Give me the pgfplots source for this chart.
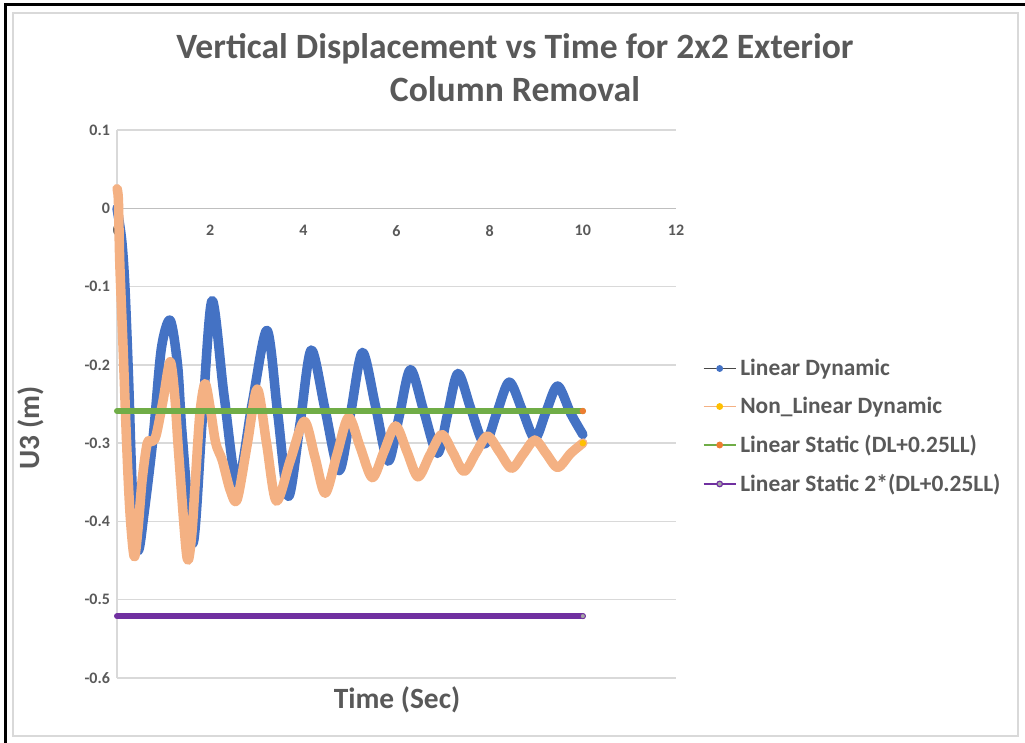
\documentclass[border=0pt]{standalone}
\usepackage{pgfplots}
\pgfplotsset{compat=1.18}
\usepackage{fontspec}
\setmainfont{Carlito}
\definecolor{txt}{HTML}{595959}
\definecolor{ld}{HTML}{4472C4}
\definecolor{nld}{HTML}{F4B183}
\definecolor{ls}{HTML}{70AD47}
\definecolor{lstwo}{HTML}{7030A0}
\definecolor{gridc}{HTML}{D9D9D9}
\definecolor{axc}{HTML}{BFBFBF}
\definecolor{mktwo}{HTML}{FFC000}
\definecolor{mkthree}{HTML}{ED7D31}
\definecolor{mkfour}{HTML}{A5A5A5}
\begin{document}
\begin{tikzpicture}
\begin{scope}[x=0.5pt,y=-0.5pt]
\path[use as bounding box] (0,0) rectangle (1025,743);
\draw[black, line width=1.5pt] (5.5,743) -- (5.5,5) -- (1025,5);
\draw[gridc, line width=1pt] (13,13) rectangle (1018,736);
\node[font=\bfseries\fontsize{17.8}{21.5}\selectfont, text=txt, align=center] at (515,68) {Vertical Displacement vs Time for 2x2 Exterior\\Column Removal};
\node[rotate=90, font=\bfseries\fontsize{14.7}{16}\selectfont, text=txt] at (31,428) {U3 (m)};
\node[font=\bfseries\fontsize{14.7}{16}\selectfont, text=txt] at (397,700) {Time (Sec)};
\end{scope}
\begin{axis}[at={(58.5pt,-339pt)}, anchor=south west, scale only axis,
  width=279.5pt, height=274pt,
  xmin=0, xmax=12, ymin=-0.6, ymax=0.1,
  xtick={0,2,4,6,8,10,12},
  ytick={-0.6,-0.5,-0.4,-0.3,-0.2,-0.1,0,0.1},
  axis x line*=middle, axis y line*=left,
  hide obscured x ticks=false, hide obscured y ticks=false,
  x axis line style={axc, line width=0.75pt, -},
  y axis line style={gridc, line width=0.75pt, -},
  ymajorgrids, grid style={gridc, line width=0.75pt},
  major tick length=0pt,
  /pgf/number format/assume math mode=true,
  tick label style={font=\bfseries\fontsize{8}{9}\selectfont, text=txt},
  yticklabel style={anchor=east, xshift=0pt},
  xticklabel style={anchor=north, yshift=-5pt},
  legend style={at={(1.037,0.459)}, anchor=west, draw=none, fill=none,
    font=\bfseries\fontsize{11.7}{13}\selectfont, text=txt, row sep=5.3pt,
    cells={anchor=west}},
  legend image code/.code={\draw[mark repeat=2,mark phase=2,#1] plot coordinates {(0pt,0pt) (8pt,0pt) (16pt,0pt)};},
  clip=false,
]
\addlegendimage{draw=txt!80!black, line width=0.6pt, mark=*, mark size=1.4pt, mark options={draw=ld, fill=ld}}
\addlegendentry{Linear Dynamic}
\addlegendimage{draw=nld, line width=0.6pt, mark=*, mark size=1.4pt, mark options={draw=mktwo, fill=mktwo}}
\addlegendentry{Non\_Linear Dynamic}
\addlegendimage{draw=ls, line width=0.6pt, mark=*, mark size=1.4pt, mark options={draw=mkthree, fill=mkthree}}
\addlegendentry{Linear Static (DL+0.25LL)}
\addlegendimage{draw=lstwo, line width=0.6pt, mark=*, mark size=1.4pt, mark options={draw=lstwo, fill=mkfour}}
\addlegendentry{Linear Static 2*(DL+0.25LL)}

\addplot[ld, line width=4.75pt, smooth, tension=0.5, line join=round, line cap=round, forget plot] coordinates {
(0,0) (0.1,-0.04) (0.17,-0.10) (0.25,-0.22) (0.33,-0.36) (0.45,-0.437) (0.58,-0.39) (0.78,-0.29) (0.95,-0.18) (1.14,-0.143) (1.3,-0.2) (1.4,-0.29) (1.63,-0.428) (1.83,-0.27) (2.04,-0.118) (2.3,-0.24) (2.58,-0.352) (2.9,-0.25) (3.22,-0.156) (3.45,-0.262) (3.68,-0.368) (3.93,-0.275) (4.17,-0.181) (4.47,-0.258) (4.77,-0.335) (5.02,-0.26) (5.27,-0.184) (5.55,-0.253) (5.82,-0.323) (6.06,-0.265) (6.3,-0.206) (6.59,-0.26) (6.88,-0.313) (7.1,-0.262) (7.32,-0.211) (7.6,-0.257) (7.89,-0.301) (8.15,-0.262) (8.42,-0.222) (8.7,-0.258) (8.97,-0.294) (9.21,-0.26) (9.46,-0.227) (9.74,-0.262) (10,-0.289)
};
\addplot[nld, line width=4.75pt, smooth, tension=0.5, line join=round, line cap=round, forget plot] coordinates {
(0,0.025) (0.03,0.01) (0.06,-0.07) (0.13,-0.177) (0.21,-0.305) (0.28,-0.39) (0.37,-0.445) (0.45,-0.41) (0.54,-0.347) (0.65,-0.3) (0.75,-0.298) (0.84,-0.29) (0.99,-0.245) (1.14,-0.196) (1.24,-0.24) (1.32,-0.31) (1.5,-0.445) (1.6,-0.42) (1.68,-0.35) (1.78,-0.262) (1.89,-0.224) (2.0,-0.255) (2.12,-0.3) (2.26,-0.322) (2.43,-0.36) (2.58,-0.372) (2.8,-0.30) (3.01,-0.231) (3.21,-0.3) (3.42,-0.374) (3.72,-0.322) (4.02,-0.272) (4.25,-0.318) (4.47,-0.364) (4.72,-0.315) (4.97,-0.267) (5.22,-0.305) (5.48,-0.344) (5.73,-0.311) (5.98,-0.278) (6.22,-0.31) (6.46,-0.343) (6.71,-0.316) (6.97,-0.289) (7.21,-0.312) (7.45,-0.336) (7.7,-0.313) (7.95,-0.291) (8.21,-0.311) (8.47,-0.332) (8.72,-0.314) (8.97,-0.296) (9.21,-0.313) (9.46,-0.331) (9.74,-0.313) (10,-0.300)
};
\addplot[only marks, mark=*, mark size=1.4pt, mark options={draw=mktwo, fill=mktwo}, forget plot] coordinates {(10,-0.300)};
\addplot[ls, line width=3pt, line cap=round, forget plot] coordinates {(0,-0.259) (10,-0.259)};
\addplot[only marks, mark=*, mark size=1.4pt, mark options={draw=mkthree, fill=mkthree}, forget plot] coordinates {(10,-0.259)};
\addplot[lstwo, line width=3pt, line cap=round, forget plot] coordinates {(0,-0.521) (10,-0.521)};
\addplot[only marks, mark=*, mark size=1.3pt, mark options={draw=lstwo, fill=mkfour, line width=0.4pt}, forget plot] coordinates {(10,-0.521)};
\end{axis}
\end{tikzpicture}
\end{document}
